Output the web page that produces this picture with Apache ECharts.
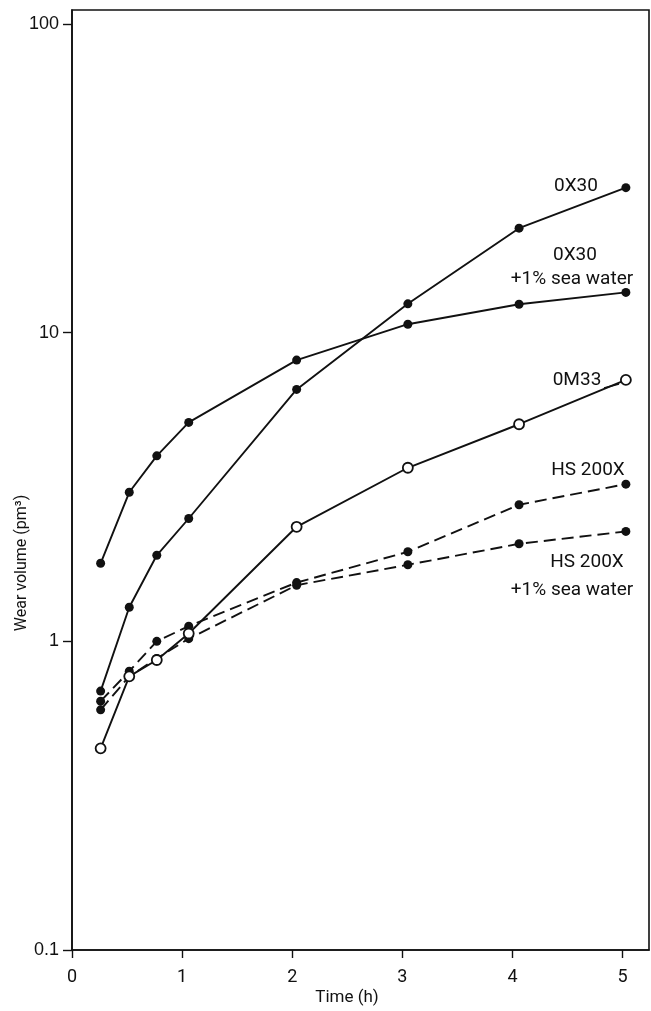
<!DOCTYPE html>
<html>
<head>
<meta charset="utf-8">
<script src="https://cdn.jsdelivr.net/npm/echarts@6/dist/echarts.min.js"></script>
<style>
html,body{margin:0;padding:0;background:#fff;}
#c{width:651px;height:1011px;}
</style>
</head>
<body>
<div id="c"></div>
<script>
// Data
const time = [0.26, 0.52, 0.77, 1.06, 2.04, 3.05, 4.06, 5.03];
const ox30 = [0.69, 1.29, 1.9, 2.5, 6.55, 12.4, 21.8, 29.5];
const ox30Sea = [1.79, 3.04, 3.99, 5.12, 8.15, 10.65, 12.36, 13.5];
const om33 = [0.45, 0.77, 0.87, 1.06, 2.35, 3.65, 5.05, 7.03];
const hs200x = [0.64, 0.80, 1.0, 1.12, 1.55, 1.95, 2.77, 3.23];
const hs200xSea = [0.60, 0.77, 0.88, 1.02, 1.52, 1.77, 2.07, 2.27];
const xTicks = [0, 1, 2, 3, 4, 5];
const yTicks = [0.1, 1, 10, 100];

const pairs = (ys) => time.map((t, i) => [t, ys[i]]);

const chart = echarts.init(document.getElementById('c'), null, {renderer: 'canvas'});

const solidFilled = (name, ys) => ({
  name, type: 'line', data: pairs(ys),
  symbol: 'circle', symbolSize: 9,
  lineStyle: {color: '#111', width: 1.9},
  itemStyle: {color: '#111'},
  animation: false
});
const dashedFilled = (name, ys) => ({
  name, type: 'line', data: pairs(ys),
  symbol: 'circle', symbolSize: 9,
  lineStyle: {color: '#111', width: 1.9, type: [12, 6]},
  itemStyle: {color: '#111'},
  animation: false
});

const labelFont = 'Roboto, "DejaVu Sans", sans-serif';
const txt = (text, x, y, size, extra) => Object.assign({
  type: 'text', x, y, z: 100,
  style: {text, fontSize: size || 19, fontFamily: labelFont, fill: '#111', align: 'center', verticalAlign: 'middle'}
}, extra || {});

chart.setOption({
  backgroundColor: '#ffffff',
  animation: false,
  grid: {left: 72, top: 10, width: 577, height: 940, outerBoundsMode: 'none', containLabel: false,
         show: true, borderColor: '#111', borderWidth: 1.6, backgroundColor: 'transparent'},
  xAxis: {
    type: 'value', min: 0, max: 5.24, interval: 1,
    axisLine: {show: true, lineStyle: {color: '#111', width: 1.6}},
    axisTick: {show: true, length: 8, lineStyle: {color: '#111', width: 1.4}, customValues: xTicks},
    axisLabel: {margin: 18, color: '#111', fontSize: 18, fontFamily: labelFont, customValues: xTicks},
    splitLine: {show: false}
  },
  yAxis: {
    type: 'log', logBase: 10, min: 0.1, max: 111,
    axisLine: {show: true, lineStyle: {color: '#111', width: 1.6}},
    axisTick: {show: true, length: 9, lineStyle: {color: '#111', width: 1.4}, customValues: yTicks},
    axisLabel: {margin: 13, color: '#111', fontSize: 18, fontFamily: '"Liberation Sans", Arial, sans-serif',
                customValues: yTicks, formatter: (v) => String(v)},
    splitLine: {show: false},
    minorTick: {show: false}
  },
  series: [
    solidFilled('0X30', ox30),
    solidFilled('0X30 +1% sea water', ox30Sea),
    dashedFilled('HS 200X', hs200x),
    dashedFilled('HS 200X +1% sea water', hs200xSea),
    {
      name: '0M33', type: 'line', data: pairs(om33),
      symbol: 'circle', symbolSize: 10,
      lineStyle: {color: '#111', width: 1.9},
      itemStyle: {color: '#fff', borderColor: '#111', borderWidth: 1.8},
      z: 5, animation: false
    }
  ],
  graphic: [
    txt('0X30', 576, 186),
    txt('0X30', 575, 255),
    txt('+1% sea water', 572, 279),
    txt('0M33', 577, 380),
    {type: 'line', z: 100, shape: {x1: 604, y1: 388, x2: 619, y2: 384}, style: {stroke: '#111', lineWidth: 1.5}},
    txt('HS 200X', 588, 470),
    txt('HS 200X', 587, 562),
    txt('+1% sea water', 572, 590),
    txt('Time (h)', 347, 998, 17),
    txt('Wear volume (pm³)', 22, 563, 16, {rotation: Math.PI / 2})
  ]
});
</script>
</body>
</html>
